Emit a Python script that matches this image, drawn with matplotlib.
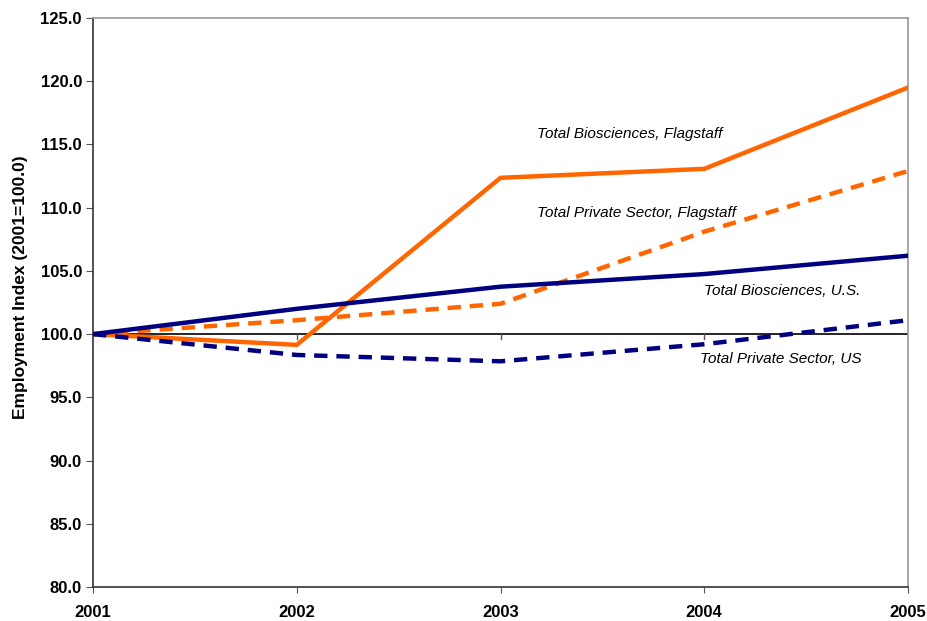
import matplotlib
matplotlib.use("Agg")
import matplotlib.pyplot as plt

plt.rcParams['font.family'] = ['Liberation Sans', 'DejaVu Sans']

# data
years = [2001, 2002, 2003, 2004, 2005]
bio_flag = [100.0, 99.15, 112.36, 113.07, 119.5]
priv_flag = [100.0, 101.1, 102.4, 108.1, 112.9]
bio_us = [100.0, 102.0, 103.75, 104.75, 106.2]
priv_us = [100.0, 98.35, 97.85, 99.2, 101.1]

labels = ['Total Biosciences, Flagstaff', 'Total Private Sector, Flagstaff',
          'Total Biosciences, U.S.', 'Total Private Sector, US']
label_x = [2003.18, 2003.18, 2004.0, 2003.98]
label_y = [115.8, 109.6, 103.4, 98.05]

orange = '#FF6600'
navy = '#000080'

fig = plt.figure(figsize=(9.27, 6.21), dpi=100)
ax = fig.add_axes([93/927, 34/621, 815/927, 569/621])

ax.axhline(100, color='black', lw=1.2, zorder=1)
for yr in years[1:-1]:
    ax.plot([yr, yr], [100, 100 - 0.4], color='#555555', lw=1, zorder=1)

dash = (0, (3, 2))
ax.plot(years, bio_flag, color=orange, lw=3.2, solid_joinstyle='miter', zorder=3)
ax.plot(years, priv_flag, color=orange, lw=3.2, linestyle=dash, zorder=3)
ax.plot(years, bio_us, color=navy, lw=3.2, zorder=3)
ax.plot(years, priv_us, color=navy, lw=3.2, linestyle=dash, zorder=3)

for t, x, y in zip(labels, label_x, label_y):
    ax.text(x, y, t, fontsize=11, style='italic', va='center', ha='left')

ax.set_xlim(2001, 2005)
ax.set_ylim(80, 125)
ax.set_xticks(years)
ax.set_xticklabels([str(y) for y in years], fontsize=12, fontweight='bold')
ax.set_yticks(range(80, 126, 5))
ax.set_yticklabels(['%.1f' % v for v in range(80, 126, 5)], fontsize=12, fontweight='bold')
ax.tick_params(axis='x', length=4, pad=9, color='#555555')
ax.tick_params(axis='y', length=5, pad=3, color='#555555')

ax.spines['left'].set_color('#333333')
ax.spines['bottom'].set_color('#333333')
ax.spines['top'].set_color('#999999')
ax.spines['right'].set_color('#999999')
for s in ax.spines.values():
    s.set_linewidth(1.2)

ax.set_ylabel('Employment Index (2001=100.0)', fontsize=12.5, fontweight='bold')
ax.yaxis.set_label_coords(-0.08, 0.527)

fig.savefig('out.png', dpi=100)
